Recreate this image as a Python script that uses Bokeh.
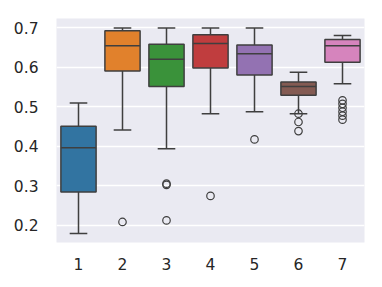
from bokeh.plotting import figure
from bokeh.models import FixedTicker, ColumnDataSource
from bokeh.embed import file_html
from bokeh.resources import INLINE

categories = ["1", "2", "3", "4", "5", "6", "7"]
upper_whisker = [0.509, 0.699, 0.699, 0.699, 0.699, 0.587, 0.680]
q3 = [0.450, 0.692, 0.658, 0.682, 0.656, 0.562, 0.670]
median = [0.396, 0.654, 0.620, 0.660, 0.634, 0.551, 0.654]
q1 = [0.284, 0.590, 0.551, 0.598, 0.580, 0.529, 0.612]
lower_whisker = [0.179, 0.441, 0.393, 0.482, 0.487, 0.482, 0.558]
outlier_cat = ["2", "3", "3", "3", "4", "5", "6", "6", "6",
               "7", "7", "7", "7", "7", "7"]
outlier_val = [0.208, 0.305, 0.302, 0.212, 0.274, 0.417, 0.482, 0.461, 0.438,
               0.516, 0.507, 0.497, 0.487, 0.477, 0.467]
colors = ["#3274a1", "#e1812c", "#3a923a", "#c03d3e", "#9372b2", "#845b53", "#d684bd"]
y_ticks = [0.2, 0.3, 0.4, 0.5, 0.6, 0.7]

pos = [i + 1 for i in range(len(categories))]
box_w = 0.8
cap_w = 0.4
line_c = "#3f3f3f"
lw = 1.5

p = figure(width=374, height=279, output_backend="svg", toolbar_location=None,
           x_range=(0.5, 7.5), y_range=(0.156, 0.723),
           min_border_left=56, min_border_right=10, min_border_top=18, min_border_bottom=37)
p.background_fill_color = "#eaeaf2"
p.border_fill_color = "white"
p.outline_line_color = None
p.xgrid.grid_line_color = None
p.ygrid.grid_line_color = "white"
p.ygrid.grid_line_width = 1.3

src = ColumnDataSource(dict(
    x=pos, up=upper_whisker, q3=q3, med=median, q1=q1, lo=lower_whisker, c=colors,
    xl=[x - box_w / 2 for x in pos], xr=[x + box_w / 2 for x in pos],
    cl=[x - cap_w / 2 for x in pos], cr=[x + cap_w / 2 for x in pos],
))

# whiskers
p.segment(x0="x", y0="q3", x1="x", y1="up", source=src, line_color=line_c, line_width=lw)
p.segment(x0="x", y0="q1", x1="x", y1="lo", source=src, line_color=line_c, line_width=lw)
p.segment(x0="cl", y0="up", x1="cr", y1="up", source=src, line_color=line_c, line_width=lw)
p.segment(x0="cl", y0="lo", x1="cr", y1="lo", source=src, line_color=line_c, line_width=lw)
# boxes
p.vbar(x="x", width=box_w, bottom="q1", top="q3", source=src, fill_color="c",
       line_color=line_c, line_width=lw)
# medians
p.segment(x0="xl", y0="med", x1="xr", y1="med", source=src, line_color=line_c, line_width=lw)
# outliers
ox = [categories.index(c) + 1 for c in outlier_cat]
p.scatter(ox, outlier_val, marker="circle", size=7.5, fill_color=None,
          line_color=line_c, line_width=1.2)

for ax in (p.xaxis[0], p.yaxis[0]):
    ax.axis_line_color = None
    ax.major_tick_line_color = None
    ax.minor_tick_line_color = None
    ax.major_label_text_font = "DejaVu Sans"
    ax.major_label_text_font_size = "15.5px"
    ax.major_label_text_color = "#262626"

p.xaxis.ticker = FixedTicker(ticks=pos)
p.xaxis.major_label_overrides = {x: c for x, c in zip(pos, categories)}
p.xaxis.major_label_standoff = 9
p.yaxis.ticker = FixedTicker(ticks=y_ticks)
p.yaxis.major_label_overrides = {t: f"{t:.1f}" for t in y_ticks}
p.yaxis.major_label_standoff = 12

open("out.html", "w").write(file_html(p, INLINE))
